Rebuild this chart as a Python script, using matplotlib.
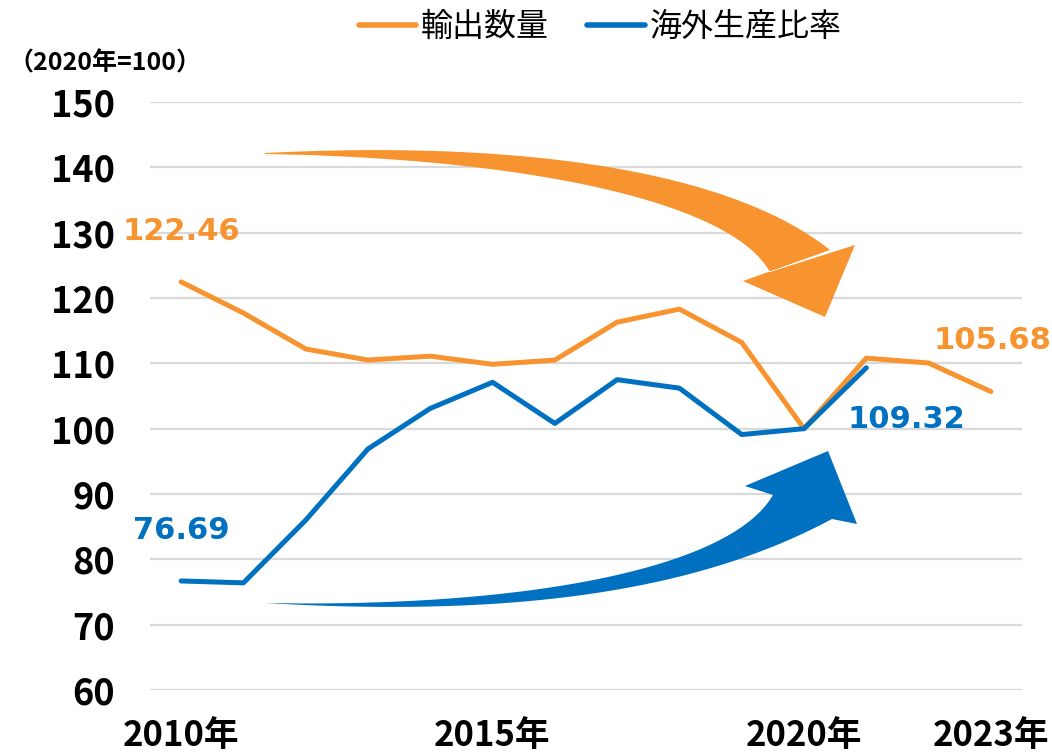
import matplotlib
matplotlib.use("Agg")
import matplotlib.pyplot as plt
import numpy as np
from matplotlib.path import Path
from matplotlib.patches import PathPatch
from matplotlib.lines import Line2D

years = list(range(2010, 2024))
export_volume = [122.46, 117.7, 112.2, 110.5, 111.1, 109.85, 110.5, 116.3, 118.3, 113.2, 100.0, 110.8, 110.05, 105.68]
overseas_years = list(range(2010, 2022))
overseas_ratio = [76.69, 76.4, 86.0, 96.9, 103.1, 107.1, 100.8, 107.5, 106.2, 99.1, 100.0, 109.32]
xtick_vals = [2010, 2015, 2020, 2023]
xtick_labels = ["2010年", "2015年", "2020年", "2023年"]
yticks = [60, 70, 80, 90, 100, 110, 120, 130, 140, 150]
series_names = ["輸出数量", "海外生産比率"]

ORANGE = "#F7942F"
BLUE = "#0070C0"
JP = ["Noto Sans CJK JP", "DejaVu Sans"]

W, H = 1052, 756
fig = plt.figure(figsize=(W / 100, H / 100), dpi=100)
ax = fig.add_axes([150 / W, 1 - 690 / H, (1022 - 150) / W, (690 - 102) / H])

ax.set_xlim(2009.5, 2023.5)
ax.set_ylim(60, 150)
ax.set_yticks(yticks)
ax.set_yticklabels([str(v) for v in yticks], family=JP, fontweight="bold", fontsize=26)
ax.set_xticks(xtick_vals)
ax.set_xticklabels(xtick_labels, family=JP, fontweight="bold", fontsize=25)
ax.tick_params(axis="y", length=0, pad=25)
ax.tick_params(axis="x", length=0, pad=20)
ax.grid(axis="y", color="#D9D9D9", linewidth=1.6)
ax.set_axisbelow(True)
for s in ax.spines.values():
    s.set_visible(False)

# curved arrows (decoration), defined in figure pixel coords
def bez(p0, p1, p2, p3, n=40):
    t = np.linspace(0, 1, n)[:, None]
    p0, p1, p2, p3 = map(np.array, (p0, p1, p2, p3))
    return (1 - t) ** 3 * p0 + 3 * (1 - t) ** 2 * t * p1 + 3 * (1 - t) * t ** 2 * p2 + t ** 3 * p3

def draw_poly(pts, color):
    pts = np.array(pts, dtype=float)
    verts = np.column_stack([pts[:, 0] / W, 1 - pts[:, 1] / H])
    verts = np.vstack([verts, verts[:1]])
    codes = [Path.MOVETO] + [Path.LINETO] * (len(verts) - 2) + [Path.CLOSEPOLY]
    fig.add_artist(PathPatch(Path(verts, codes), facecolor=color, edgecolor="none",
                             transform=fig.transFigure, zorder=1))

# orange arrow
outer = bez((265, 153), (520, 140), (730, 170), (830, 250))
inner = bez((770, 272), (730, 200), (520, 158), (265, 154))
head = [(743, 281), (825, 317), (855, 245)]
draw_poly(list(outer) + head + list(inner), ORANGE)

# blue arrow
bottom = bez((265, 603), (520, 618), (700, 590), (832, 519))
top = bez((773, 495), (730, 570), (520, 608), (265, 603))
bhead = [(857, 524), (828, 451), (745, 486)]
draw_poly(list(bottom) + bhead + list(top), BLUE)

ax.plot(years, export_volume, color=ORANGE, linewidth=3.6, solid_capstyle="round", zorder=3)
ax.plot(overseas_years, overseas_ratio, color=BLUE, linewidth=3.6, solid_capstyle="round", zorder=3)

lab = dict(fontsize=22, fontweight="bold", family=["DejaVu Sans"], ha="center", va="center",
           textcoords="offset points", annotation_clip=False)
ax.annotate(f"{export_volume[0]:.2f}", (years[0], export_volume[0]), xytext=(0, 36), color=ORANGE, **lab)
ax.annotate(f"{export_volume[-1]:.2f}", (years[-1], export_volume[-1]), xytext=(1, 37), color=ORANGE, **lab)
ax.annotate(f"{overseas_ratio[0]:.2f}", (overseas_years[0], overseas_ratio[0]), xytext=(0, 36), color=BLUE, **lab)
ax.annotate(f"{overseas_ratio[-1]:.2f}", (overseas_years[-1], overseas_ratio[-1]), xytext=(29, -37), color=BLUE, **lab)

fig.text(8 / W, 1 - 63 / H, "（2020年=100）", family=JP, fontweight="bold", fontsize=18,
         ha="left", va="center")

handles = [Line2D([0], [0], color=ORANGE, linewidth=4, solid_capstyle="round"),
           Line2D([0], [0], color=BLUE, linewidth=4, solid_capstyle="round")]
fig.legend(handles, series_names, loc="center", bbox_to_anchor=(600 / W, 1 - 27 / H), ncol=2,
           frameon=False, prop={"family": JP, "size": 23}, handlelength=1.8,
           handletextpad=0.15, columnspacing=1.2)

fig.savefig("out.png", dpi=100)
